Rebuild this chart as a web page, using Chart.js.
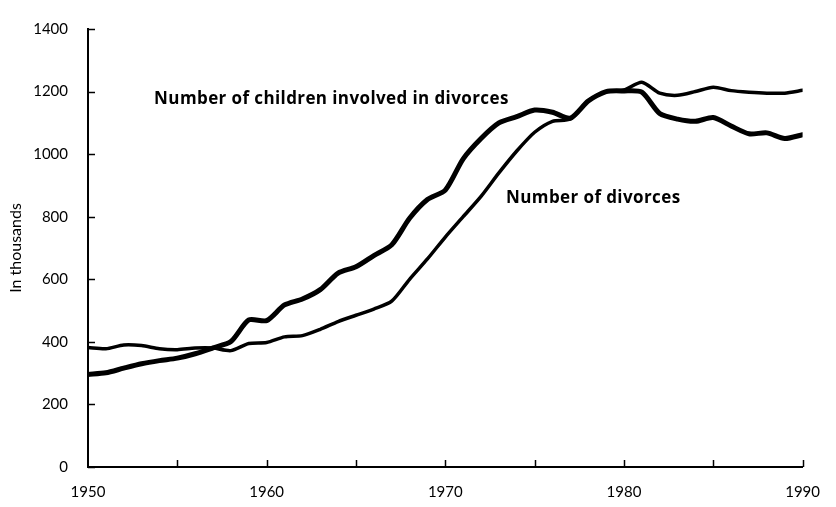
<!DOCTYPE html>
<html>
<head>
<meta charset="utf-8">
<script src="https://cdn.jsdelivr.net/npm/chart.js@4.4.1/dist/chart.umd.min.js"></script>
<style>
  html, body { margin: 0; padding: 0; background: #fff; }
  #wrap { width: 836px; height: 507px; }
</style>
</head>
<body>
<div id="wrap"><canvas id="c" width="836" height="507"></canvas></div>
<script>
const years = [1950,1951,1952,1953,1954,1955,1956,1957,1958,1959,
               1960,1961,1962,1963,1964,1965,1966,1967,1968,1969,
               1970,1971,1972,1973,1974,1975,1976,1977,1978,1979,
               1980,1981,1982,1983,1984,1985,1986,1987,1988,1989,1990];

// Number of children involved in divorces (thousands)
const children = [296,301,316,330,340,348,362,381,401,470,
                  468,518,537,567,620,640,676,710,795,855,
                  885,985,1050,1100,1120,1141,1134,1115,1170,1200,
                  1202,1198,1130,1112,1105,1117,1090,1065,1068,1050,1062];

// Number of divorces (thousands)
const divorces = [382,378,390,388,378,375,380,380,372,395,
                  398,416,420,440,465,485,505,530,600,665,
                  735,800,865,940,1010,1070,1105,1112,1170,1200,
                  1205,1230,1195,1188,1200,1214,1203,1198,1195,1195,1204];

const yTicks = [0,200,400,600,800,1000,1200,1400];
const xLabelYears = [1950,1960,1970,1980,1990];

const labelChildren = "Number of children involved in divorces";
const labelDivorces = "Number of divorces";
const yTitle = "In thousands";

const FONT = "Lato, 'DejaVu Sans', sans-serif";
const LABEL_FONT = "'Open Sans', 'DejaVu Sans', sans-serif";

const toPts = (arr) => years.map((y, i) => ({x: y, y: arr[i]}));

const innerTicks = {
  id: 'innerTicks',
  afterDraw(chart) {
    const {ctx, scales: {x, y}} = chart;
    ctx.save();
    ctx.strokeStyle = '#000';
    ctx.lineWidth = 1.5;
    for (const v of yTicks) {
      const py = Math.round(y.getPixelForValue(v)) + 0.5;
      ctx.beginPath();
      ctx.moveTo(x.left, py);
      ctx.lineTo(x.left + 7, py);
      ctx.stroke();
    }
    for (let yr = 1955; yr <= 1990; yr += 5) {
      const px = Math.round(x.getPixelForValue(yr)) + 0.5;
      ctx.beginPath();
      ctx.moveTo(px, y.bottom);
      ctx.lineTo(px, y.bottom - 7);
      ctx.stroke();
    }
    // annotations
    ctx.fillStyle = '#000';
    ctx.font = "bold 17px " + LABEL_FONT;
    if ('letterSpacing' in ctx) ctx.letterSpacing = '0.4px';
    ctx.textBaseline = 'middle';
    ctx.textAlign = 'left';
    ctx.fillText(labelChildren, x.getPixelForValue(1953.7), y.getPixelForValue(1175));
    ctx.fillText(labelDivorces, x.getPixelForValue(1973.4), y.getPixelForValue(860));
    ctx.restore();
  }
};

new Chart(document.getElementById('c'), {
  type: 'line',
  data: {
    datasets: [
      {
        label: labelChildren,
        data: toPts(children),
        borderColor: '#000',
        borderWidth: 5,
        pointRadius: 0,
        tension: 0.25,
        fill: false,
        borderCapStyle: 'round',
        borderJoinStyle: 'round'
      },
      {
        label: labelDivorces,
        data: toPts(divorces),
        borderColor: '#000',
        borderWidth: 3.5,
        pointRadius: 0,
        tension: 0.25,
        fill: false,
        borderCapStyle: 'round',
        borderJoinStyle: 'round'
      }
    ]
  },
  options: {
    responsive: false,
    animation: false,
    devicePixelRatio: 1,
    layout: { padding: { top: 24, right: 21, left: 0, bottom: 0 } },
    plugins: { legend: { display: false }, tooltip: { enabled: false } },
    scales: {
      x: {
        type: 'linear',
        min: 1950,
        max: 1990,
        afterFit: (s) => { s.height = 40; },
        afterBuildTicks: (s) => { s.ticks = xLabelYears.map(v => ({value: v})); },
        ticks: {
          color: '#000',
          font: { family: FONT, size: 15 },
          padding: 16,
          maxRotation: 0,
          callback: (v) => String(v)
        },
        grid: { display: false, drawTicks: false },
        border: { display: true, color: '#000', width: 2 }
      },
      y: {
        min: 0,
        max: 1400,
        afterFit: (s) => { s.width = 88; },
        afterBuildTicks: (s) => { s.ticks = yTicks.map(v => ({value: v})); },
        ticks: {
          color: '#000',
          font: { family: FONT, size: 15 },
          padding: 20,
          callback: (v) => String(v)
        },
        title: {
          display: true,
          text: yTitle,
          color: '#000',
          font: { family: FONT, size: 16 },
          padding: { top: 6, bottom: 0 }
        },
        grid: { display: false, drawTicks: false },
        border: { display: true, color: '#000', width: 2 }
      }
    }
  },
  plugins: [innerTicks]
});
</script>
</body>
</html>
